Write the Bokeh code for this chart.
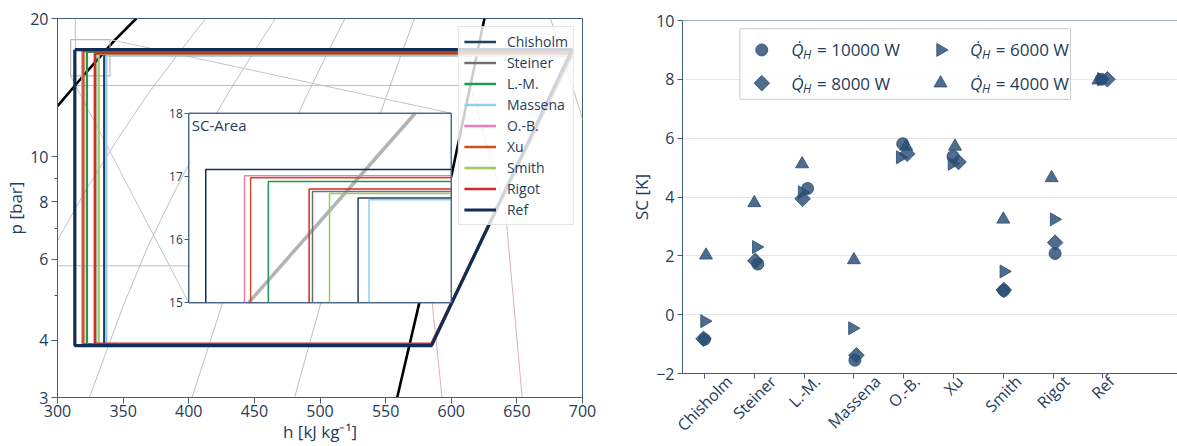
import math
from bokeh.plotting import figure
from bokeh.layouts import row
from bokeh.models import (Range1d, LinearScale, LinearAxis, FixedTicker, PrintfTickFormatter,
                          Legend, LegendItem, Label, Span)
from bokeh.embed import file_html
from bokeh.resources import INLINE

# ============================ DATA ============================
# ---- left: log(p)-h diagram with the refrigeration cycles ----
cycle_names = ["Chisholm", "Steiner", "L.-M.", "Massena", "O.-B.", "Xu", "Smith", "Rigot", "Ref"]
h_cond_out = [335.6, 328.9, 322.4, 337.2, 318.9, 319.8, 331.4, 328.4, 313.2]   # kJ/kg
p_high = [16.66, 16.76, 16.92, 16.63, 17.01, 16.98, 16.73, 16.80, 17.11]        # bar
p_low = [3.92, 3.92, 3.92, 3.92, 3.92, 3.92, 3.92, 3.93, 3.89]                  # bar
h_evap_out = [585.0, 585.0, 585.0, 585.0, 585.0, 585.0, 585.0, 585.0, 585.0]
h_comp_out = [692.0, 692.0, 692.0, 692.0, 692.0, 692.0, 692.0, 692.0, 692.0]

sat_liq_h = [300.0, 319.5, 344.0, 360.0]
sat_liq_p = [12.9, 15.0, 18.0, 20.0]
sat_vap_h = [558.8, 575.3, 600.7, 625.3]
sat_vap_p = [3.0, 4.77, 9.26, 20.0]

quality_p = [3.0, 4.74, 6.36, 8.36, 10.8, 13.7, 17.1, 20.0]
quality_02_h = [246.0, 275.0, 297.0, 320.4, 344.6, 368.8, 394.3, 413.0]
quality_04_h = [324.3, 350.0, 368.6, 388.8, 409.2, 429.6, 450.6, 466.0]
quality_06_h = [402.5, 425.0, 440.4, 457.2, 473.8, 490.4, 507.0, 519.0]
quality_08_h = [480.6, 500.0, 512.2, 525.6, 538.4, 551.2, 563.2, 572.0]

isotherm_1_h = [280.0, 582.8, 585.5, 593.0]
isotherm_1_p = [5.8, 5.8, 4.8, 3.0]
isotherm_2_h = [313.5, 314.0, 614.5, 641.3, 654.0]
isotherm_2_p = [20.0, 14.3, 14.3, 7.65, 3.0]
isotherm_3_h = [675.6, 698.5, 701.0]
isotherm_3_p = [20.0, 12.5, 11.8]

# ---- right: subcooling per model and heating load ----
sc_categories = ["Chisholm", "Steiner", "L.-M.", "Massena", "O.-B.", "Xu", "Smith", "Rigot", "Ref"]
sc_q10000 = [-0.84, 1.72, 4.29, -1.55, 5.81, 5.38, 0.82, 2.08, 8.00]
sc_q8000 = [-0.82, 1.83, 3.94, -1.38, 5.47, 5.19, 0.84, 2.45, 8.00]
sc_q6000 = [-0.22, 2.30, 4.16, -0.46, 5.35, 5.13, 1.47, 3.24, 8.00]
sc_q4000 = [2.02, 3.80, 5.12, 1.86, 5.72, 5.72, 3.24, 4.65, 7.97]
# small horizontal spread of the markers around each category (category units)
dx_q10000 = [0.00, 0.07, 0.07, 0.02, -0.02, -0.01, 0.01, 0.04, -0.03]
dx_q8000 = [-0.02, 0.02, -0.03, 0.05, 0.07, 0.10, 0.01, 0.04, 0.09]
dx_q6000 = [0.00, 0.04, -0.04, -0.03, -0.07, -0.03, 0.01, 0.02, -0.03]
dx_q4000 = [0.03, 0.00, -0.04, 0.00, 0.05, 0.03, 0.00, -0.03, -0.09]
load_labels = ["10000", "8000", "6000", "4000"]

# ============================ STYLE ============================
FONT = "Open Sans"
TEXT = "#1f3d5c"
AXC = "#3f5f80"
cycle_colors = ["#1f3f66", "#707070", "#1e9a52", "#8dd0f0", "#ee7cb1",
                "#cc501e", "#9ccb5c", "#d42a2a", "#102e55"]
MC = "#2a4d74"

def style_axis(ax, size="16px"):
    ax.major_label_text_font = FONT
    ax.major_label_text_font_size = size
    ax.major_label_text_color = TEXT
    ax.axis_line_color = AXC
    ax.major_tick_line_color = AXC
    ax.minor_tick_line_color = AXC
    ax.major_tick_in = 0
    ax.minor_tick_in = 0
    ax.axis_label_text_font = FONT
    ax.axis_label_text_font_size = "17px"
    ax.axis_label_text_font_style = "normal"
    ax.axis_label_text_color = TEXT
    ax.axis_label_standoff = 0

# ============================ LEFT FIGURE ============================
p = figure(width=620, height=446, x_range=Range1d(300, 700), y_range=Range1d(3, 20),
           y_axis_type="log", output_backend="svg", toolbar_location=None,
           min_border_left=57, min_border_right=38, min_border_top=18, min_border_bottom=49)
p.frame_align = False
p.grid.visible = False
p.outline_line_color = AXC
p.xaxis.ticker = FixedTicker(ticks=[300, 350, 400, 450, 500, 550, 600, 650, 700], minor_ticks=[])
p.yaxis.ticker = FixedTicker(ticks=[3, 4, 6, 8, 10, 20], minor_ticks=[5, 7, 9])
p.yaxis.formatter = PrintfTickFormatter(format="%d")
for ax in p.xaxis + p.yaxis:
    style_axis(ax)
    ax.major_tick_out = 6
    ax.minor_tick_out = 3
    ax.major_label_standoff = 3
p.xaxis.major_label_standoff = 1
p.xaxis.axis_label = "h [kJ kg⁻¹]"
p.yaxis.axis_label = "p [bar]"

# background diagram
for qh in (quality_02_h, quality_04_h, quality_06_h, quality_08_h):
    p.line(qh, quality_p, line_color="#8c8c8c", line_width=0.7, line_alpha=0.8)
for ih, ip in ((isotherm_1_h, isotherm_1_p), (isotherm_2_h, isotherm_2_p), (isotherm_3_h, isotherm_3_p)):
    p.line(ih, ip, line_color="#d09a9a", line_width=0.9, line_alpha=0.85)
p.line(sat_liq_h, sat_liq_p, line_color="black", line_width=2.6)
p.line(sat_vap_h, sat_vap_p, line_color="black", line_width=2.6)

# inset geometry (fractions of the main frame) and limits
FX0, FX1, FY0, FY1 = 0.25, 0.75, 0.25, 0.75
INSET_X = (310.7, 349.3)
INSET_Y = (15.0, 18.0)
BOX_X = (310.0, 340.0)
BOX_Y = (15.0, 18.0)

def extend(lo, hi, f0, f1):
    span = (hi - lo) / (f1 - f0)
    return lo - f0 * span, hi + (1 - f1) * span

ix0, ix1 = extend(INSET_X[0], INSET_X[1], FX0, FX1)
iy0, iy1 = extend(INSET_Y[0], INSET_Y[1], FY0, FY1)
p.extra_x_ranges = {"ins": Range1d(ix0, ix1)}
p.extra_x_scales = {"ins": LinearScale()}
p.extra_y_ranges = {"ins": Range1d(iy0, iy1)}
p.extra_y_scales = {"ins": LinearScale()}

xr, yr = p.x_range, p.y_range
def main_x(f):
    return xr.start + f * (xr.end - xr.start)
def main_y(f):
    return 10 ** (math.log10(yr.start) + f * (math.log10(yr.end) - math.log10(yr.start)))

# indicator box + connectors
p.quad(left=[BOX_X[0]], right=[BOX_X[1]], bottom=[BOX_Y[0]], top=[BOX_Y[1]],
       fill_color=None, line_color="#b8b8b8", line_width=1.2)
p.line([BOX_X[1], main_x(FX1)], [BOX_Y[1], main_y(FY1)], line_color="#c4c4c4", line_width=1)
p.line([BOX_X[0], main_x(FX0)], [BOX_Y[0], main_y(FY0)], line_color="#c4c4c4", line_width=1)

# cycles
items = []
for name, hc, ph, pl, he, hco, col in zip(cycle_names, h_cond_out, p_high, p_low,
                                          h_evap_out, h_comp_out, cycle_colors):
    lw = 3.2 if name == "Ref" else 2.3
    r = p.line([hc, hc, he, hco, hc], [ph, pl, pl, ph, ph], line_color=col, line_width=lw)
    items.append(LegendItem(label=name, renderers=[r]))

# inset
p.quad(left=[INSET_X[0]], right=[INSET_X[1]], bottom=[INSET_Y[0]], top=[INSET_Y[1]],
       x_range_name="ins", y_range_name="ins", fill_color="white", line_color=AXC, line_width=1)
ins_h = [h for h, pp in zip(sat_liq_h, sat_liq_p) if INSET_Y[0] <= pp <= INSET_Y[1]]
ins_p = [pp for pp in sat_liq_p if INSET_Y[0] <= pp <= INSET_Y[1]]
p.line(ins_h, ins_p, x_range_name="ins", y_range_name="ins",
       line_color="#9a9a9a", line_alpha=0.75, line_width=3.5)
for hc, ph, col in zip(h_cond_out, p_high, cycle_colors):
    p.line([hc, hc, INSET_X[1]], [INSET_Y[0], ph, ph], x_range_name="ins", y_range_name="ins",
           line_color=col, line_width=1.5)
p.quad(left=[INSET_X[0]], right=[INSET_X[1]], bottom=[INSET_Y[0]], top=[INSET_Y[1]],
       x_range_name="ins", y_range_name="ins", fill_color=None, line_color=AXC, line_width=1)
ins_ax = LinearAxis(x_range_name="ins", y_range_name="ins", fixed_location=INSET_X[0],
                    bounds=INSET_Y, ticker=FixedTicker(ticks=[15, 16, 17, 18], minor_ticks=[]))
style_axis(ins_ax, "12px")
ins_ax.major_tick_out = 4
ins_ax.major_label_standoff = 2
ins_ax.axis_line_color = None
p.add_layout(ins_ax, "left")
p.add_layout(Label(x=INSET_X[0], y=INSET_Y[1], x_range_name="ins", y_range_name="ins",
                   text="SC-Area", text_font=FONT, text_font_size="15px", text_color=TEXT,
                   text_baseline="top", x_offset=3, y_offset=-2))

leg = Legend(items=items, location="top_right")
leg.label_text_font = FONT
leg.label_text_font_size = "14px"
leg.label_text_color = TEXT
leg.glyph_width = 32
leg.glyph_height = 17
leg.label_height = 17
leg.spacing = 2
leg.padding = 5
leg.margin = 8
leg.label_standoff = 11
leg.border_line_color = "#cccccc"
leg.background_fill_alpha = 0.8
p.add_layout(leg)

# ============================ RIGHT FIGURE ============================
p2 = figure(width=557, height=446, x_range=Range1d(-0.442, 9.498), y_range=Range1d(-2, 10),
            output_backend="svg", toolbar_location=None,
            min_border_left=62, min_border_right=0, min_border_top=20, min_border_bottom=71)
p2.frame_align = False
p2.outline_line_color = None
p2.xgrid.visible = False
p2.ygrid.grid_line_color = "#e6e6e6"
p2.yaxis.ticker = FixedTicker(ticks=[-2, 0, 2, 4, 6, 8, 10], minor_ticks=[])
p2.yaxis.major_label_overrides = {-2: "−2"}
for ax in p2.xaxis + p2.yaxis:
    style_axis(ax)
    ax.major_tick_out = 5
    ax.major_label_standoff = 3
p2.yaxis.axis_label = "SC [K]"
# tick marks at the categories (no labels on this axis)
p2.xaxis.ticker = FixedTicker(ticks=list(range(len(sc_categories))), minor_ticks=[])
p2.xaxis.major_label_text_color = None
p2.xaxis.major_label_text_font_size = "1px"
p2.xaxis.major_label_standoff = 0
# category names: rotated, bounding box centred under each tick
LABEL_W = [70, 53, 37, 67, 37, 19, 43, 38, 24]   # approx. rendered text widths (px)
PX_PER_CAT = 49.8
lab_ticks = [round(i + 0.354 * w / PX_PER_CAT, 3) for i, w in enumerate(LABEL_W)]
cat_ax = LinearAxis(ticker=FixedTicker(ticks=lab_ticks, minor_ticks=[]),
                    major_label_overrides={t: n for t, n in zip(lab_ticks, sc_categories)})
style_axis(cat_ax)
cat_ax.axis_line_color = None
cat_ax.major_tick_line_color = None
cat_ax.major_tick_out = 0
cat_ax.major_label_standoff = 0
cat_ax.major_label_orientation = math.pi / 4
p2.add_layout(cat_ax, "below")
p2.add_layout(Span(location=10, dimension="width", line_color=AXC, line_width=1))

# legend box (drawn before the data markers)
p2.quad(left=[0.71], right=[7.35], bottom=[7.32], top=[9.72], fill_color="white",
        fill_alpha=0.85, line_color="#cccccc", line_width=1)

mk = dict(fill_color=MC, line_color=MC, fill_alpha=0.82, line_alpha=0.82)
series = [
    (sc_q10000, dx_q10000, dict(marker="circle", size=12)),
    (sc_q8000, dx_q8000, dict(marker="square", size=11, angle=math.pi / 4)),
    (sc_q6000, dx_q6000, dict(marker="triangle", size=13, angle=-math.pi / 2)),
    (sc_q4000, dx_q4000, dict(marker="triangle", size=13)),
]
for vals, dx, m in series:
    xs = [i + d for i, d in enumerate(dx)]
    p2.scatter(xs, vals, **m, **mk)

# manual legend entries (2 columns)
leg_pos = [(1.15, 9.0), (1.15, 7.87), (4.74, 9.0), (4.74, 7.87)]
for (lx, ly), (vals, dx, m), lbl in zip(leg_pos, series, load_labels):
    p2.scatter([lx], [ly], **m, **mk)
    tx = lx + 0.59
    p2.add_layout(Label(x=tx, y=ly, text="Q̇", text_font=FONT, text_font_size="17px",
                        text_font_style="italic", text_color=TEXT, text_baseline="middle"))
    p2.add_layout(Label(x=tx + 0.24, y=ly, y_offset=-5, text="H", text_font=FONT,
                        text_font_size="12px", text_font_style="italic", text_color=TEXT,
                        text_baseline="middle"))
    p2.add_layout(Label(x=tx + 0.52, y=ly, text="= " + lbl + " W", text_font=FONT,
                        text_font_size="17px", text_color=TEXT, text_baseline="middle"))

layout = row(p, p2)
open("out.html", "w").write(file_html(layout, INLINE))
